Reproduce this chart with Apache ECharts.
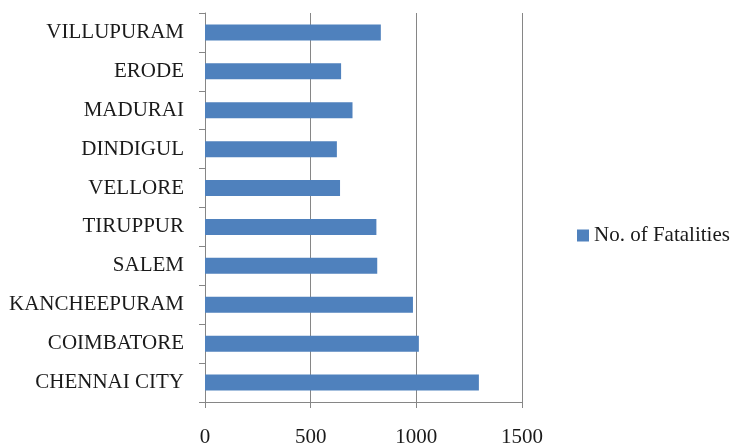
<!DOCTYPE html>
<html><head><meta charset="utf-8">
<script src="https://cdn.jsdelivr.net/npm/echarts@6/dist/echarts.min.js"></script>
<style>html,body{margin:0;padding:0;background:#fff}#c{width:730px;height:448px}</style>
</head><body><div id="c"></div>
<script>
const categories = ["CHENNAI CITY","COIMBATORE","KANCHEEPURAM","SALEM","TIRUPPUR","VELLORE","DINDIGUL","MADURAI","ERODE","VILLUPURAM"];
const fatalities = [1296,1012,984,815,811,639,624,698,644,832];
const xTicks = [0,500,1000,1500];
const seriesName = "No. of Fatalities";
const font = "'Liberation Serif','Times New Roman',serif";
const chart = echarts.init(document.getElementById('c'));
chart.setOption({
  animation:false,
  backgroundColor:'#fff',
  grid:{left:205,right:208,top:13,bottom:45,containLabel:false},
  legend:{data:[seriesName],left:572,top:220,itemWidth:12,itemHeight:12,icon:'rect',
    textStyle:{fontFamily:font,fontSize:21,color:'#1a1a1a'}},
  xAxis:{type:'value',min:xTicks[0],max:xTicks[xTicks.length-1],interval:500,
    axisLine:{show:true,lineStyle:{color:'#868686'}},
    axisTick:{show:true,length:6,lineStyle:{color:'#868686'}},
    splitLine:{show:true,lineStyle:{color:'#868686',width:1}},
    axisLabel:{fontFamily:font,fontSize:21,color:'#1a1a1a',margin:25,formatter:function(v){return String(v);}}},
  yAxis:{type:'category',data:categories,
    axisLine:{show:true,lineStyle:{color:'#868686'}},
    axisTick:{show:true,length:6,alignWithLabel:false,lineStyle:{color:'#868686'}},
    axisLabel:{fontFamily:font,fontSize:21,color:'#1a1a1a',margin:21}},
  series:[{name:seriesName,type:'bar',data:fatalities,barWidth:16,
    itemStyle:{color:'#4F81BD'}}]
});
</script></body></html>
